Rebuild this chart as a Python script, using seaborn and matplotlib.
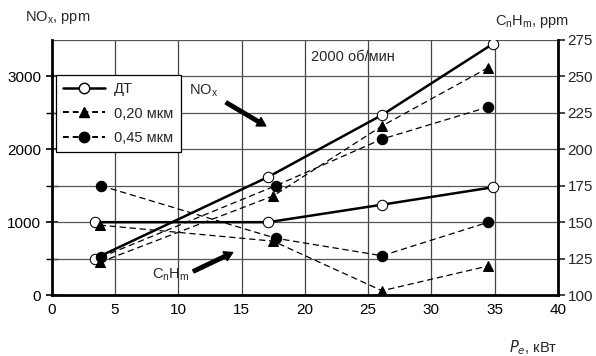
import matplotlib
matplotlib.use("Agg")
import matplotlib.pyplot as plt
import seaborn as sns
import pandas as pd
from matplotlib.lines import Line2D

sns.set_style("white")
plt.rcParams['font.family'] = ['Liberation Sans Narrow', 'Liberation Sans', 'DejaVu Sans']

# ---- data ----
x_dt = [3.4, 17.1, 26.1, 34.9]
x_020 = [3.8, 17.5, 26.1, 34.5]
x_045 = [3.9, 17.7, 26.1, 34.5]
nox_dt = [500, 1620, 2470, 3450]
nox_020 = [450, 1360, 2320, 3120]
nox_045 = [520, 1500, 2140, 2580]
hc_dt = [150, 150, 162, 174]
hc_020 = [148, 137, 103, 120]
hc_045 = [175, 139, 127, 150]
series_labels = ["ДТ", "0,20 мкм", "0,45 мкм"]
x_ticks = [0, 5, 10, 15, 20, 25, 30, 35, 40]
left_ticks = [0, 1000, 2000, 3000]
right_ticks = [100, 125, 150, 175, 200, 225, 250, 275]

fig = plt.figure(figsize=(5.96, 3.56), dpi=100)
ax = fig.add_axes([0.0867, 0.171, 0.8495, 0.717])
ax2 = ax.twinx()

ms = 7.5
styles = [
    dict(color="black", lw=1.8, ls="-", marker="o", mfc="white", mec="black", ms=ms),
    dict(color="black", lw=0.9, ls=(0, (5, 3)), marker="^", mfc="black", mec="black", ms=ms),
    dict(color="black", lw=0.9, ls=(0, (5, 3)), marker="o", mfc="black", mec="black", ms=ms),
]
xs = [x_dt, x_020, x_045]
noxs = [nox_dt, nox_020, nox_045]
hcs = [hc_dt, hc_020, hc_045]

for xv, yv, st in zip(xs, noxs, styles):
    df = pd.DataFrame({"x": xv, "y": yv})
    sns.lineplot(data=df, x="x", y="y", ax=ax, estimator=None, sort=False,
                 color=st["color"], linewidth=st["lw"], linestyle=st["ls"],
                 marker=st["marker"], markerfacecolor=st["mfc"],
                 markeredgecolor=st["mec"], markersize=st["ms"], zorder=3)
for xv, yv, st in zip(xs, hcs, styles):
    df = pd.DataFrame({"x": xv, "y": yv})
    sns.lineplot(data=df, x="x", y="y", ax=ax2, estimator=None, sort=False,
                 color=st["color"], linewidth=st["lw"], linestyle=st["ls"],
                 marker=st["marker"], markerfacecolor=st["mfc"],
                 markeredgecolor=st["mec"], markersize=st["ms"], zorder=3)

ax.set_xlim(0, 40)
ax.set_ylim(0, 3500)
ax2.set_ylim(100, 275)
ax.set_xticks(x_ticks)
ax.set_yticks(left_ticks)
ax.set_yticks([500, 1500, 2500], minor=True)
ax2.set_yticks(right_ticks)
ax.set_xlabel("")
ax.set_ylabel("")
ax2.set_ylabel("")

# grid
for v in x_ticks[1:-1]:
    ax.axvline(v, color="#444444", lw=0.9, zorder=1)
for v in range(500, 3501, 500):
    ax.axhline(v, color="#555555", lw=0.9, zorder=1)

for a in (ax, ax2):
    for s in a.spines.values():
        s.set_visible(False)
for side in ("left", "bottom"):
    ax.spines[side].set_visible(True)
    ax.spines[side].set_linewidth(2)
    ax.spines[side].set_color("black")
ax2.spines["right"].set_visible(True)
ax2.spines["right"].set_linewidth(2)
ax2.spines["right"].set_color("black")

ax.tick_params(axis="both", which="both", direction="inout", length=8, width=1.2,
               colors="black", labelsize=11)
ax.tick_params(axis="y", which="minor", length=8, width=1.0, left=True)
ax.tick_params(axis="x", pad=2)
ax2.tick_params(axis="y", direction="out", length=5, width=1.2, labelsize=11, pad=2)

# axis titles
fig.text(25 / 596, 1 - 17 / 356, "NO$_\\mathregular{x}$, ppm", fontsize=10.5, ha="left", va="center")
fig.text(495 / 596, 1 - 22 / 356, "C$_\\mathregular{n}$H$_\\mathregular{m}$, ppm", fontsize=10.5, ha="left", va="center")
fig.text(557 / 596, 1 - 348 / 356, "$\\mathit{P}_\\mathit{e}$, кВт", fontsize=10.5, ha="right", va="center")

# annotations
ax.text(23.8, 3260, "2000 об/мин", fontsize=10.5, ha="center", va="center")
ax.text(12.0, 2800, "NO$_\\mathregular{x}$", fontsize=10.5, ha="center", va="center")
ax.annotate("", xy=(17.1, 2300), xytext=(13.6, 2660),
            arrowprops=dict(arrowstyle="simple,head_length=0.6,head_width=0.7,tail_width=0.25",
                            color="black"))
ax.text(9.4, 280, "C$_\\mathregular{n}$H$_\\mathregular{m}$", fontsize=10.5, ha="center", va="center")
ax.annotate("", xy=(14.5, 600), xytext=(11.0, 310),
            arrowprops=dict(arrowstyle="simple,head_length=0.6,head_width=0.7,tail_width=0.25",
                            color="black"))

# legend
handles = [
    Line2D([], [], color="black", lw=1.8, ls="-", marker="o", mfc="white", mec="black", ms=ms),
    Line2D([], [], color="black", lw=1.4, ls=(0, (3, 2)), marker="^", mfc="black", mec="black", ms=ms),
    Line2D([], [], color="black", lw=1.4, ls=(0, (3, 2)), marker="o", mfc="black", mec="black", ms=ms),
]
leg = ax.legend(handles, series_labels, loc="upper left", bbox_to_anchor=(0.008, 0.862),
                frameon=True, fancybox=False, edgecolor="black", framealpha=1,
                fontsize=10.5, handlelength=2.9, borderpad=0.5, labelspacing=0.7,
                handletextpad=0.6, borderaxespad=0)
leg.get_frame().set_linewidth(0.9)
leg.set_zorder(5)

fig.savefig("out.png", dpi=100)
